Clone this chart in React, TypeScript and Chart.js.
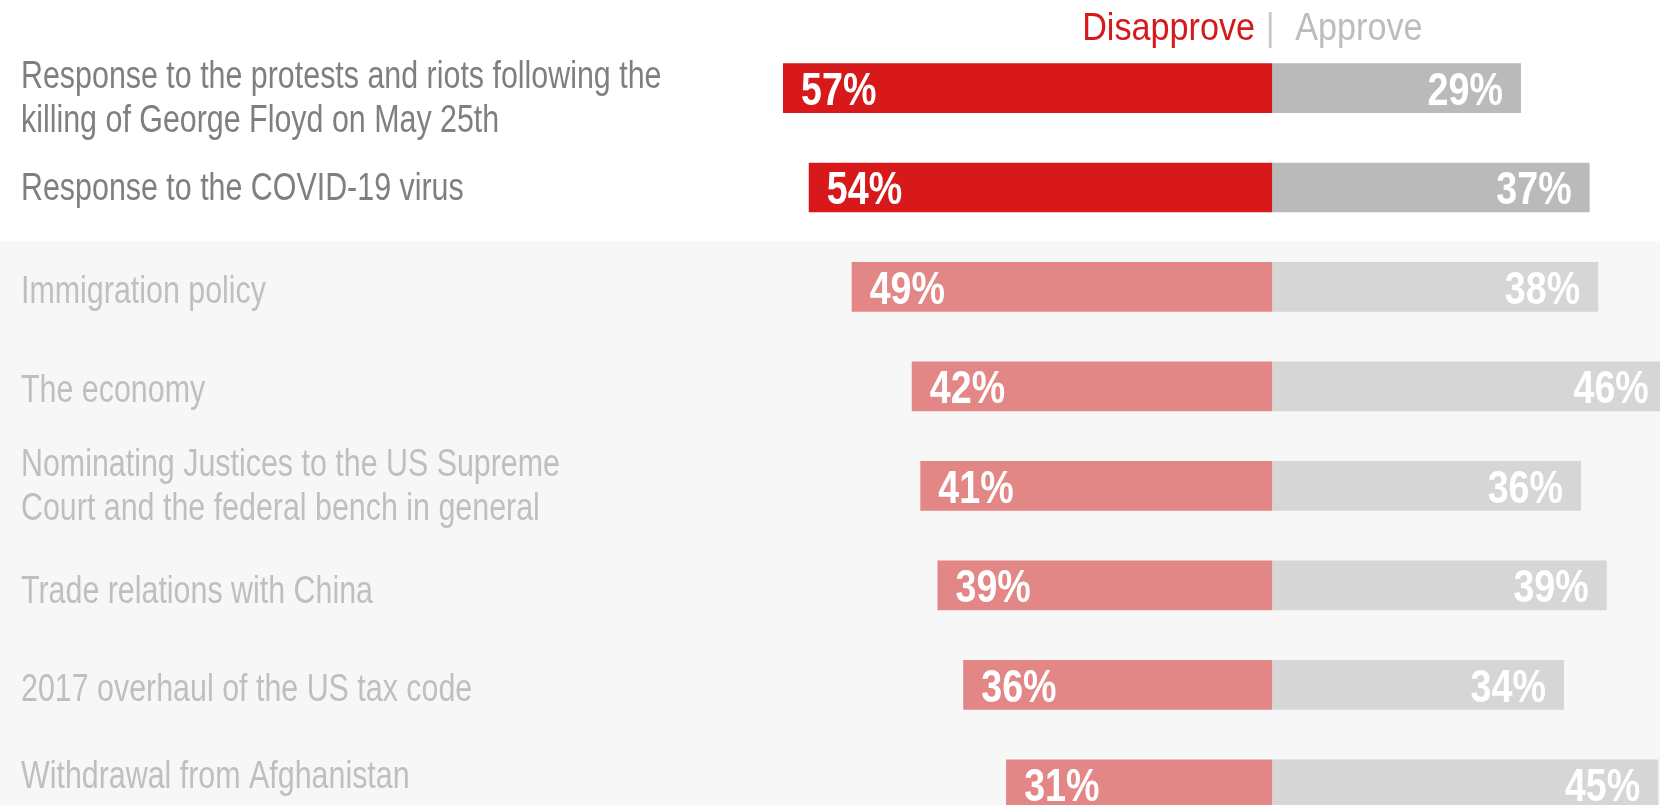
import React, { useEffect, useRef } from "react";
import { Chart, registerables } from "chart.js";

Chart.register(...registerables);

const categories: string[][] = [
  ["Response to the protests and riots following the", "killing of George Floyd on May 25th"],
  ["Response to the COVID-19 virus"],
  ["Immigration policy"],
  ["The economy"],
  ["Nominating Justices to the US Supreme", "Court and the federal bench in general"],
  ["Trade relations with China"],
  ["2017 overhaul of the US tax code"],
  ["Withdrawal from Afghanistan"],
];
const disapprove: number[] = [57, 54, 49, 42, 41, 39, 36, 31];
const approve: number[] = [29, 37, 38, 46, 36, 39, 34, 45];
const highlightedRows = 2;

// layout: small vertical nudges of each row's label (px), matching the original layout
const LABEL_NUDGE = [9.5, -3, 1, 0, 0, 2, 1, -11.5];

const FONT = '"Liberation Sans", Arial, sans-serif';
const RED = "#d7191c";
const RED_PALE = "#e38686";
const GRAY = "#bababa";
const GRAY_PALE = "#d6d6d6";

function narrowText(ctx: CanvasRenderingContext2D, text: string, x: number, y: number, align: CanvasTextAlign, sx: number) {
  ctx.save();
  ctx.translate(x, y);
  ctx.scale(sx, 1);
  ctx.textAlign = align;
  ctx.textBaseline = "alphabetic";
  ctx.fillText(text, 0, 0);
  ctx.restore();
}

const overlayPlugin = {
  id: "overlay",
  beforeDraw(chart: any) {
    const { ctx, width, height } = chart;
    const y = chart.scales.y;
    ctx.save();
    ctx.fillStyle = "#ffffff";
    ctx.fillRect(0, 0, width, height);
    const yb = (y.getPixelForValue(highlightedRows - 1) + y.getPixelForValue(highlightedRows)) / 2 + 4;
    ctx.fillStyle = "#f7f7f7";
    ctx.fillRect(0, yb, width, height - yb);
    ctx.restore();
  },
  afterDatasetsDraw(chart: any) {
    const { ctx } = chart;
    const x = chart.scales.x;
    const y = chart.scales.y;
    ctx.save();
    // category labels
    ctx.font = `38px ${FONT}`;
    categories.forEach((lines, i) => {
      const cy = y.getPixelForValue(i) + (LABEL_NUDGE[i] || 0);
      ctx.fillStyle = i < highlightedRows ? "#7f7f7f" : "#bfbfbf";
      const n = lines.length;
      lines.forEach((line, j) => {
        const by = cy + 15.5 + (j - (n - 1) / 2) * 44 - (n > 1 ? 3 : 0);
        narrowText(ctx, line, 21, by, "left", 0.8);
      });
    });
    // value labels
    ctx.font = `bold 46.5px ${FONT}`;
    ctx.fillStyle = "#ffffff";
    const m0 = chart.getDatasetMeta(0);
    const m1 = chart.getDatasetMeta(1);
    disapprove.forEach((v, i) => {
      const el = m0.data[i];
      narrowText(ctx, `${v}%`, el.x + 18, el.y + 17, "left", 0.81);
    });
    approve.forEach((v, i) => {
      const el = m1.data[i];
      narrowText(ctx, `${v}%`, el.x - 18, el.y + 17, "right", 0.81);
    });
    // header
    const cx = x.getPixelForValue(0);
    const hy = 39.5;
    ctx.font = `39px ${FONT}`;
    ctx.fillStyle = RED;
    narrowText(ctx, "Disapprove", cx - 17, hy, "right", 0.877);
    ctx.fillStyle = "#c8c8c8";
    narrowText(ctx, "|", cx - 2, hy, "center", 0.877);
    ctx.fillStyle = "#bdbdbd";
    narrowText(ctx, "Approve", cx + 23, hy, "left", 0.877);
    ctx.restore();
  },
};

export default function App() {
  const ref = useRef<HTMLCanvasElement | null>(null);
  useEffect(() => {
    if (!ref.current) return;
    const chart = new Chart(ref.current, {
      type: "bar",
      data: {
        labels: categories.map((c) => c.join(" ")),
        datasets: [
          {
            label: "Disapprove",
            data: disapprove.map((v) => -v),
            backgroundColor: disapprove.map((_, i) => (i < highlightedRows ? RED : RED_PALE)),
            borderWidth: 0,
            categoryPercentage: 1,
            barPercentage: 0.5,
          },
          {
            label: "Approve",
            data: approve,
            backgroundColor: approve.map((_, i) => (i < highlightedRows ? GRAY : GRAY_PALE)),
            borderWidth: 0,
            categoryPercentage: 1,
            barPercentage: 0.5,
          },
        ],
      },
      options: {
        indexAxis: "y",
        animation: false,
        responsive: true,
        maintainAspectRatio: false,
        layout: { padding: { top: 38.3, left: 0, right: 0, bottom: 0 } },
        plugins: { legend: { display: false }, tooltip: { enabled: false } },
        scales: {
          x: { stacked: true, min: -148.25, max: 45.2, display: false },
          y: { stacked: true, display: false },
        },
      },
      plugins: [overlayPlugin],
    });
    return () => chart.destroy();
  }, []);
  return (
    <div style={{ position: "fixed", top: 0, left: 0, width: 1660, height: 805, overflow: "hidden" }}>
      <div style={{ position: "relative", width: 1660, height: 834 }}>
        <canvas ref={ref} />
      </div>
    </div>
  );
}
